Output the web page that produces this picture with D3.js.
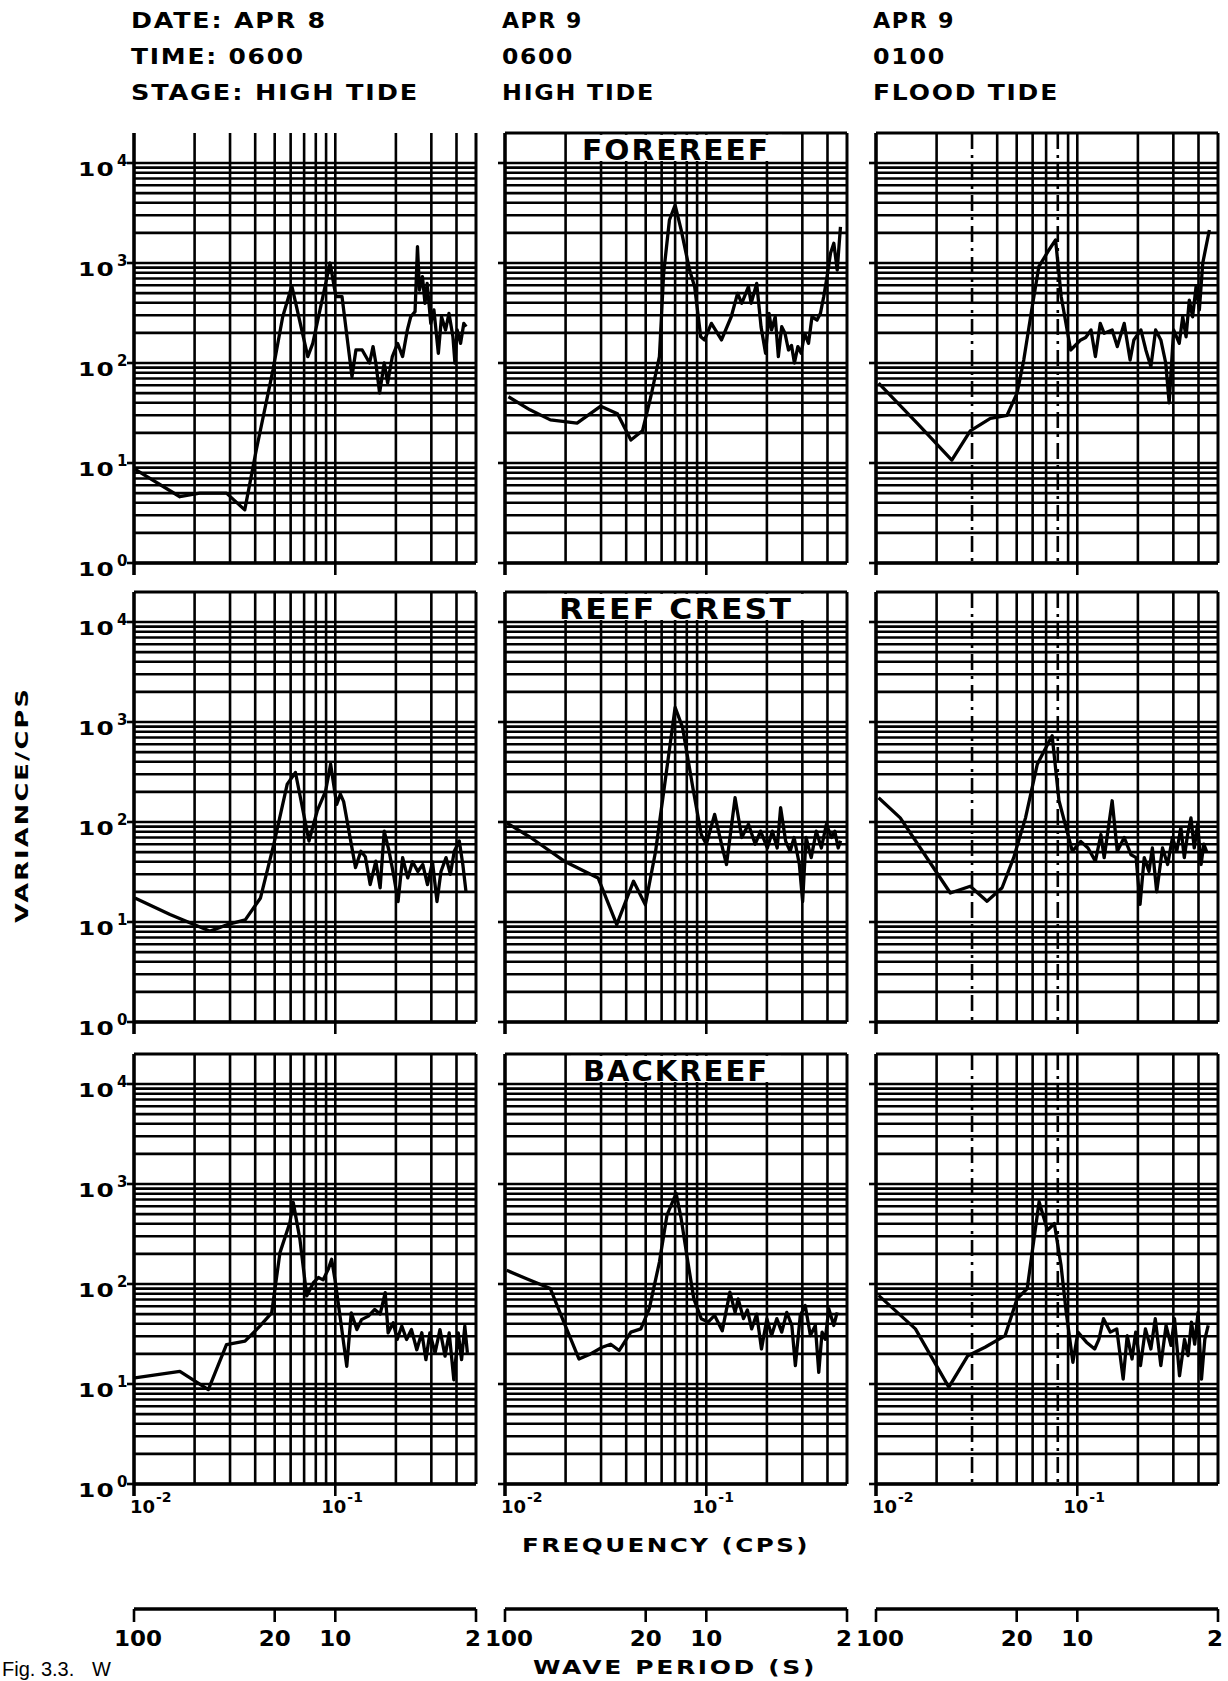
<!DOCTYPE html>
<html>
<head>
<meta charset="utf-8">
<script src="https://cdn.jsdelivr.net/npm/d3@7"></script>
<style>
  body { margin: 0; background: #fff; }
  svg text { font-family: "DejaVu Sans", sans-serif; font-weight: bold; fill: #000; }
</style>
</head>
<body>
<svg id="chart" width="1228" height="1681"></svg>
<script>
// header text for the three columns
const dates = ["DATE: APR 8", "APR 9", "APR 9"];
const times = ["TIME: 0600", "0600", "0100"];
const stages = ["STAGE: HIGH TIDE", "HIGH TIDE", "FLOOD TIDE"];
const zones = ["FOREREEF", "REEF CREST", "BACKREEF"];
const yPowers = [0, 1, 2, 3, 4];
const xPowers = [-2, -1];
const periods = [100, 20, 10, 2];

// spectra: [frequency (cps), variance/cps]
const foreApr8 = [[0.0100,8.8],[0.0169,4.6],[0.0212,5.0],[0.0288,5.0],[0.0355,3.4],[0.0405,13.5],[0.049,85],[0.0548,290],[0.0608,590],[0.073,116],[0.0773,157],[0.0942,1000],[0.1007,460],[0.108,460],[0.121,73],[0.1266,135],[0.136,135],[0.148,100],[0.154,146],[0.159,100],[0.166,50],[0.175,100],[0.182,63],[0.192,116],[0.204,157],[0.216,116],[0.228,214],[0.237,290],[0.249,326],[0.256,1456],[0.262,537],[0.271,730],[0.279,395],[0.286,626],[0.298,249],[0.309,339],[0.325,125],[0.337,290],[0.353,214],[0.367,314],[0.384,183],[0.393,100],[0.403,214],[0.419,157],[0.435,249],[0.447,231]];
const foreApr9 = [[0.0104,46],[0.0133,34],[0.0168,27],[0.0228,25],[0.0299,37],[0.0362,31],[0.0422,17],[0.0482,21],[0.053,46],[0.0585,116],[0.0614,794],[0.0656,2690],[0.070,3800],[0.075,2140],[0.0826,851],[0.0875,580],[0.0938,183],[0.098,170],[0.106,249],[0.119,170],[0.133,290],[0.143,497],[0.150,395],[0.162,580],[0.167,395],[0.178,626],[0.187,231],[0.197,125],[0.205,314],[0.211,214],[0.220,290],[0.228,116],[0.237,231],[0.246,198],[0.256,135],[0.265,150],[0.274,100],[0.285,146],[0.296,125],[0.308,198],[0.322,157],[0.335,290],[0.355,269],[0.369,314],[0.383,460],[0.398,730],[0.414,1250],[0.430,1574],[0.447,851],[0.464,2300]];
const floodApr9 = [[0.0103,63],[0.016,25],[0.0238,10.7],[0.0294,21],[0.037,28],[0.0448,30],[0.0502,50],[0.0542,107],[0.0597,366],[0.0644,919],[0.0723,1350],[0.078,1700],[0.0832,460],[0.0927,135],[0.104,170],[0.110,180],[0.117,214],[0.123,116],[0.130,249],[0.136,198],[0.149,214],[0.158,146],[0.171,249],[0.183,107],[0.191,170],[0.207,214],[0.219,135],[0.232,92],[0.245,214],[0.26,170],[0.275,100],[0.286,40],[0.301,214],[0.321,157],[0.334,290],[0.347,183],[0.36,426],[0.374,290],[0.389,580],[0.404,339],[0.42,1000],[0.436,1456],[0.453,2140]];

const crestApr8 = [[0.0101,17.4],[0.0151,11.9],[0.0239,8.1],[0.029,9.4],[0.0357,10.5],[0.0425,17.4],[0.0495,60],[0.0577,239],[0.0634,313],[0.074,64.5],[0.0813,129],[0.0895,204],[0.0948,379],[0.1016,150],[0.106,190],[0.110,160],[0.126,35],[0.134,51],[0.141,45],[0.149,23.7],[0.159,40.6],[0.167,22],[0.175,81],[0.185,51],[0.196,27.6],[0.205,16],[0.216,43.9],[0.229,27.6],[0.242,40],[0.257,32],[0.272,37.6],[0.287,23.7],[0.304,40],[0.32,16],[0.335,32],[0.355,44],[0.373,30],[0.39,51],[0.413,64.5],[0.43,37.6],[0.446,20]];
const crestApr9 = [[0.0102,98],[0.0134,70],[0.0197,40.6],[0.029,27.6],[0.0359,9.4],[0.0435,25.6],[0.0498,14.9],[0.056,51],[0.0628,278],[0.070,1400],[0.0762,884],[0.0857,221],[0.0944,75],[0.100,60],[0.110,119],[0.119,60],[0.126,37.6],[0.139,175],[0.150,70],[0.162,95],[0.175,60],[0.186,81],[0.201,55],[0.213,81],[0.225,55],[0.234,139],[0.248,64],[0.261,51],[0.273,70],[0.29,37.6],[0.301,16],[0.313,70],[0.332,44],[0.352,81],[0.373,55],[0.395,95],[0.419,70],[0.435,81],[0.452,55],[0.465,65]];
const crestFlood = [[0.0103,175],[0.0132,110],[0.0166,55],[0.0234,19.5],[0.0294,22.8],[0.0356,16.1],[0.0423,22],[0.0483,44],[0.0553,110],[0.0633,379],[0.075,729],[0.0811,163],[0.0945,51],[0.104,64],[0.113,55],[0.123,40.6],[0.131,75],[0.136,44],[0.149,163],[0.158,51],[0.171,70],[0.185,47],[0.196,44],[0.205,15],[0.215,44],[0.227,32],[0.236,55],[0.248,20],[0.265,55],[0.281,37.6],[0.297,70],[0.312,51],[0.327,88],[0.34,44],[0.353,75],[0.367,110],[0.381,55],[0.396,95],[0.412,37.6],[0.425,60],[0.44,50]];

const backApr8 = [[0.0101,11.5],[0.0169,13.4],[0.0234,8.8],[0.0288,24.8],[0.0356,26.8],[0.0422,37.9],[0.0483,51.5],[0.0531,206],[0.0595,412],[0.0618,655],[0.0667,281],[0.0721,76],[0.0778,103],[0.0824,116],[0.087,110],[0.0922,140],[0.0959,177],[0.0996,111],[0.105,51.5],[0.114,15],[0.12,51.5],[0.128,35],[0.135,44],[0.146,47.7],[0.157,55.7],[0.167,50],[0.177,82],[0.183,32.5],[0.194,41],[0.203,27.9],[0.214,38],[0.226,27.9],[0.239,35],[0.254,22],[0.269,32.5],[0.282,17.5],[0.295,32.5],[0.313,20.5],[0.331,35],[0.351,19],[0.368,32.5],[0.388,11],[0.408,32.5],[0.424,17.5],[0.44,38],[0.453,20.5]];
const backApr9 = [[0.0102,137],[0.0128,113],[0.0168,90],[0.0196,41.6],[0.0233,17.8],[0.0266,20],[0.0304,23.3],[0.0335,25],[0.0369,21.6],[0.0422,33],[0.0473,35.6],[0.0521,56.6],[0.0585,166],[0.0638,489],[0.0708,806],[0.075,453],[0.081,166],[0.0867,71],[0.0944,45],[0.102,41.6],[0.11,48.5],[0.12,34],[0.131,83],[0.139,52],[0.144,71],[0.153,45],[0.16,55],[0.168,35.6],[0.178,50],[0.188,22.4],[0.2,45],[0.211,30.5],[0.224,45],[0.237,33],[0.251,52],[0.266,38.5],[0.277,15.3],[0.293,48.5],[0.31,61],[0.329,30.5],[0.348,38.5],[0.362,13.1],[0.376,33],[0.39,28],[0.406,56.6],[0.43,38.5],[0.447,52]];
const backFlood = [[0.0103,77],[0.0157,35.6],[0.0187,19.2],[0.023,9.3],[0.0286,19.2],[0.0348,23.3],[0.0438,30.5],[0.0502,71],[0.0564,90],[0.0597,209],[0.0646,665],[0.0711,345],[0.0769,403],[0.083,154],[0.0881,52],[0.0951,16.5],[0.1007,33],[0.111,26.2],[0.122,22.4],[0.128,28],[0.135,45],[0.146,33],[0.157,35.6],[0.169,11.2],[0.177,30.5],[0.187,17.8],[0.195,33],[0.206,15.3],[0.218,35.6],[0.232,22.4],[0.244,45],[0.26,15.3],[0.276,38.5],[0.292,24.3],[0.304,45],[0.322,12.1],[0.341,28],[0.355,19.2],[0.369,41.6],[0.383,25],[0.398,52],[0.414,11.2],[0.43,28],[0.447,38.5]];

const spectra = [
  [foreApr8, foreApr9, floodApr9],
  [crestApr8, crestApr9, crestFlood],
  [backApr8, backApr9, backFlood]
];

const svg = d3.select("#chart");
const colX = [134, 505, 876];
const rowBase = [563, 1022, 1484];   // y of the 10^0 line
const pw = 342;
const ph = 100 * Math.log10(2e4);

const x = d3.scaleLog().domain([0.01, 0.5]).range([0, pw]);
const y = d3.scaleLog().domain([1, 2e4]).range([ph, 0]);

const line = d3.line()
  .x(d => x(d[0]))
  .y(d => y(d[1]));

// stretched heavy lettering, close to the wide face of the original
function wide(sel, len, ls) {
  return sel.attr("textLength", len)
    .attr("lengthAdjust", "spacingAndGlyphs")
    .attr("letter-spacing", ls || 0);
}

const isClose = (a, b) => Math.abs(a - b) < 1e-9;

spectra.forEach((row, r) => {
  row.forEach((data, c) => {
    const g = svg.append("g")
      .attr("transform", `translate(${colX[c]},${rowBase[r] - ph})`);

    // horizontal grid
    g.selectAll(".hg")
      .data(y.ticks().filter(d => !(r === 0 && c === 0 && d === 2e4)))
      .join("line")
      .attr("x1", 0).attr("x2", pw)
      .attr("y1", d => y(d)).attr("y2", d => y(d))
      .attr("stroke", "#000")
      .attr("stroke-width", d => (d === 2e4 ? 3 : 2.6));

    // vertical grid
    g.selectAll(".vg")
      .data(x.ticks())
      .join("line")
      .attr("x1", d => x(d)).attr("x2", d => x(d))
      .attr("y1", 0).attr("y2", ph)
      .attr("stroke", "#000")
      .attr("stroke-width", d => (d === 0.5 ? 3 : 2.6))
      .attr("stroke-dasharray", d => (c === 2 && (isClose(d, 0.03) || isClose(d, 0.08))) ? "16,6,3,6" : null);

    // axes frame
    g.append("line").attr("x1", 0).attr("x2", 0).attr("y1", 0).attr("y2", ph + 12)
      .attr("stroke", "#000").attr("stroke-width", 3.4);
    g.append("line").attr("x1", 0).attr("x2", pw).attr("y1", ph).attr("y2", ph)
      .attr("stroke", "#000").attr("stroke-width", 3.4);

    // decade ticks on left axis
    g.selectAll(".yt")
      .data(yPowers.map(p => Math.pow(10, p)))
      .join("line")
      .attr("x1", -7).attr("x2", 0)
      .attr("y1", d => y(d)).attr("y2", d => y(d))
      .attr("stroke", "#000").attr("stroke-width", 2.6);

    // decade ticks under the bottom axis
    g.selectAll(".xt")
      .data(xPowers.map(p => Math.pow(10, p)))
      .join("line")
      .attr("x1", d => x(d)).attr("x2", d => x(d))
      .attr("y1", ph).attr("y2", ph + 12)
      .attr("stroke", "#000").attr("stroke-width", 2.6);

    // zone title box in the middle column
    if (c === 1) {
      const tw = [188, 234, 186][r];
      g.append("rect")
        .attr("x", pw / 2 - tw / 2 - 12).attr("y", 2)
        .attr("width", tw + 24).attr("height", y(1e4) - 4)
        .attr("fill", "#fff");
      wide(g.append("text")
        .attr("x", pw / 2 - tw / 2).attr("y", y(1e4) - 3)
        .attr("font-size", 29), tw, 2)
        .text(zones[r]);
    }

    // spectrum
    g.append("path")
      .datum(data)
      .attr("d", line)
      .attr("fill", "none")
      .attr("stroke", "#000")
      .attr("stroke-width", 3.3)
      .attr("stroke-linejoin", "round");

    // y labels only on the first column
    if (c === 0) {
      yPowers.forEach(p => {
        const yy = y(Math.pow(10, p));
        wide(g.append("text")
          .attr("x", -56).attr("y", yy + 13)
          .attr("font-size", 20), 37, 1)
          .text("10");
        g.append("text")
          .attr("x", -17).attr("y", yy + 3)
          .attr("font-size", 15)
          .text(String(p));
      });
    }

    // x labels under the bottom row
    if (r === 2) {
      xPowers.forEach((p, i) => {
        const xx = x(Math.pow(10, p));
        const t = g.append("text")
          .attr("x", i === 0 ? xx - 4 : xx - 14)
          .attr("y", ph + 29)
          .attr("font-size", 18);
        t.append("tspan").text("10");
        t.append("tspan")
          .attr("dy", -11).attr("dx", 1)
          .attr("font-size", 14)
          .text("-" + Math.abs(p));
      });
    }
  });
});

// column headers
const headRows = [dates, times, stages];
const headBase = [28, 64, 100];
const headW = [[196, 81, 82], [174, 72, 73], [288, 153, 186]];
headRows.forEach((rowTxt, i) => {
  rowTxt.forEach((txt, c) => {
    wide(svg.append("text")
      .attr("x", colX[c] - 3).attr("y", headBase[i])
      .attr("font-size", 21), headW[i][c], 1.5)
      .text(txt);
  });
});

// y title
wide(svg.append("text")
  .attr("transform", "translate(28,805) rotate(-90)")
  .attr("x", -118)
  .attr("font-size", 18), 236, 1.5)
  .text("VARIANCE/CPS");

// frequency title
wide(svg.append("text")
  .attr("x", 522).attr("y", 1552)
  .attr("font-size", 20), 288, 2)
  .text("FREQUENCY (CPS)");

// wave period axes
const periodY = 1609;
colX.forEach(cx => {
  const g = svg.append("g").attr("transform", `translate(${cx},${periodY})`);
  g.append("line").attr("x1", 0).attr("x2", pw).attr("y1", 0).attr("y2", 0)
    .attr("stroke", "#000").attr("stroke-width", 3.6);
  g.selectAll(".pt")
    .data(periods)
    .join("line")
    .attr("x1", d => x(1 / d)).attr("x2", d => x(1 / d))
    .attr("y1", 0).attr("y2", 13)
    .attr("stroke", "#000").attr("stroke-width", 2.6);
  g.selectAll(".pl")
    .data(periods)
    .join("text")
    .attr("x", d => x(1 / d) + (d === 100 ? 4 : d === 2 ? -3 : 0) - String(d).length * 8)
    .attr("y", 37)
    .attr("font-size", 21)
    .attr("textLength", d => String(d).length * 16)
    .attr("lengthAdjust", "spacingAndGlyphs")
    .text(d => d);
});

wide(svg.append("text")
  .attr("x", 533).attr("y", 1674)
  .attr("font-size", 19), 284, 2)
  .text("WAVE PERIOD (S)");

// caption, at the bottom edge
svg.append("text")
  .attr("x", 2).attr("y", 1676)
  .attr("font-size", 20)
  .style("font-weight", "normal")
  .style("font-family", "Liberation Sans, sans-serif")
  .text("Fig. 3.3.");
svg.append("text")
  .attr("x", 92).attr("y", 1676)
  .attr("font-size", 20)
  .style("font-weight", "normal")
  .style("font-family", "Liberation Sans, sans-serif")
  .text("W");
</script>
</body>
</html>
